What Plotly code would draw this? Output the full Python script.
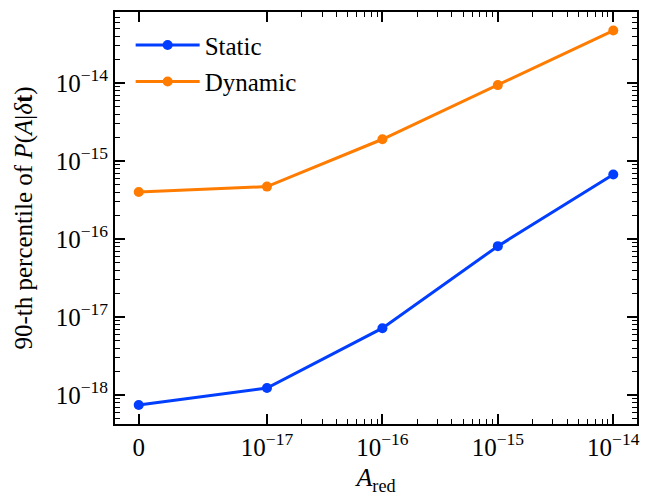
import numpy as np
import plotly.graph_objects as go

# Data
a_red = [0.0, 1e-17, 1e-16, 1e-15, 1e-14]
x_tick_labels = ["0", "10<sup>−17</sup>", "10<sup>−16</sup>", "10<sup>−15</sup>", "10<sup>−14</sup>"]
static_vals = [7.45e-19, 1.23e-18, 7.2e-18, 8.1e-17, 6.7e-16]
dynamic_vals = [4.0e-16, 4.7e-16, 1.9e-15, 9.4e-15, 4.7e-14]
y_tick_vals = [1e-18, 1e-17, 1e-16, 1e-15, 1e-14]
y_tick_labels = ["10<sup>−18</sup>", "10<sup>−17</sup>", "10<sup>−16</sup>", "10<sup>−15</sup>", "10<sup>−14</sup>"]

# symlog transform (matplotlib style, linthresh=1e-17, linscale=1)
LINTHRESH = 1e-17
LINSCALE_ADJ = 1.0 / (1 - 1 / 10.0)


def symlog(v):
    v = np.asarray(v, dtype=float)
    out = np.where(np.abs(v) <= LINTHRESH, v / LINTHRESH * LINSCALE_ADJ,
                   np.sign(v) * (np.log10(np.abs(v) / LINTHRESH + 1e-300) + LINSCALE_ADJ))
    return out


xs = symlog(a_red)
x_minor = []
for dec in [1e-17, 1e-16, 1e-15]:
    for k in range(2, 10):
        x_minor.append(float(symlog(k * dec)))

y_minor = []
for e in range(-19, -12):
    for k in range(2, 10):
        y_minor.append(k * 10.0 ** e)

BLUE = "#023eff"
ORANGE = "#ff7c00"
FONT = "Liberation Serif"

fig = go.Figure()
fig.add_trace(go.Scatter(x=xs, y=static_vals, mode="lines+markers", name="Static", legendgroup="s",
                         line=dict(color=BLUE, width=3), marker=dict(size=10, color=BLUE)))
fig.add_trace(go.Scatter(x=xs, y=dynamic_vals, mode="lines+markers", name="Dynamic", legendgroup="d",
                         line=dict(color=ORANGE, width=3), marker=dict(size=10, color=ORANGE)))

xmax = float(xs[-1])
pad = 0.05 * xmax

fig.update_layout(
    width=648, height=499,
    margin=dict(l=107, r=19, t=4, b=83, autoexpand=False),
    plot_bgcolor="white", paper_bgcolor="white",
    font=dict(family=FONT, size=24, color="black"),
    showlegend=True,
    legend=dict(x=0.03, y=0.975, xanchor="left", yanchor="top", bgcolor="rgba(0,0,0,0)",
                font=dict(size=25, family=FONT, color="black"), itemwidth=64, tracegroupgap=1),
    xaxis=dict(
        range=[-pad, xmax + pad], showgrid=False, zeroline=False, automargin=False,
        showline=True, linecolor="black", linewidth=1.8, mirror="allticks",
        ticks="inside", ticklen=10, tickwidth=1.5, tickcolor="black",
        tickmode="array", tickvals=list(xs), ticktext=x_tick_labels,
        tickfont=dict(size=25, family=FONT, color="black"),
        minor=dict(tickmode="array", tickvals=x_minor, ticks="inside", ticklen=5,
                   tickwidth=1.2, tickcolor="black", showgrid=False),
        title=dict(text="<i>A</i><sub>red</sub>", font=dict(size=26, family=FONT, color="black"), standoff=8),
    ),
    yaxis=dict(
        type="log", range=[-18.371, -13.09], showgrid=False, zeroline=False, automargin=False,
        showline=True, linecolor="black", linewidth=1.8, mirror="allticks",
        ticks="inside", ticklen=10, tickwidth=1.5, tickcolor="black",
        tickmode="array", tickvals=y_tick_vals, ticktext=y_tick_labels,
        tickfont=dict(size=25, family=FONT, color="black"),
        minor=dict(tickmode="array", tickvals=y_minor, ticks="inside", ticklen=5,
                   tickwidth=1.2, tickcolor="black", showgrid=False),
        title=dict(text="90-th percentile of <i>P</i>(<i>A</i>|<i>δ</i><b>t</b>)",
                   font=dict(size=25, family=FONT, color="black"), standoff=16),
    ),
)

fig.write_html("out.html")
